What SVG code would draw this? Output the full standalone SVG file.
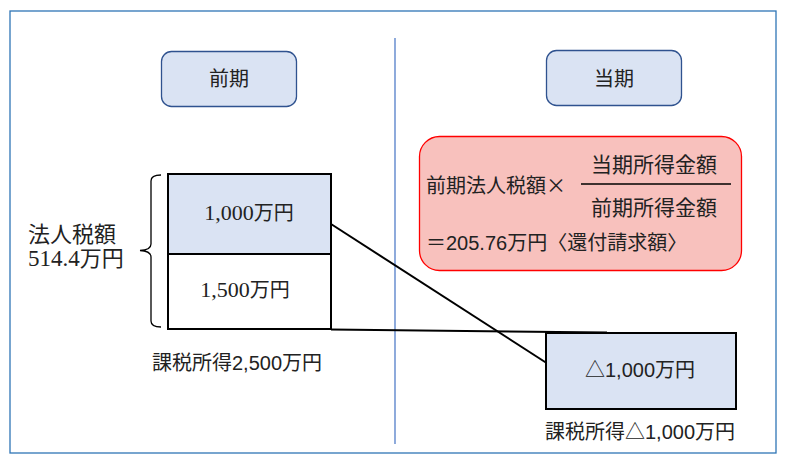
<svg xmlns="http://www.w3.org/2000/svg" width="785" height="463" viewBox="0 0 785 463">
<style>
.t{font-family:"Liberation Serif","Noto Sans CJK JP",serif;font-size:20px;fill:#222;}
.s{font-family:"Liberation Sans","Noto Sans CJK JP",sans-serif;font-size:20px;fill:#222;}
.cjk{font-family:"Noto Sans CJK JP",sans-serif;}
.num{font-size:22px;}
.hdr{fill:#dae3f3;stroke:#2f528f;stroke-width:1.3;}
.blk{stroke:#000;stroke-width:2;}
.conn{stroke:#000;stroke-width:2;fill:none;}
</style>
<rect x="0" y="0" width="785" height="463" fill="#fff"/>
<rect id="frame" x="10" y="11" width="766" height="442" fill="none" stroke="#2e75b6" stroke-width="1.3"/>
<line id="divider" x1="395" y1="38" x2="395" y2="444" stroke="#4472c4" stroke-width="1.2"/>
<g id="connectors">
<line class="conn" x1="331" y1="224" x2="559" y2="371"/>
<line class="conn" x1="331" y1="329.5" x2="607" y2="332.5"/>
</g>
<g id="zenki-header">
<rect class="hdr" x="161.5" y="51.5" width="135" height="55" rx="10"/>
<text class="t" x="229" y="86" text-anchor="middle">前期</text>
</g>
<g id="touki-header">
<rect class="hdr" x="546.5" y="50.5" width="135" height="55" rx="10"/>
<text class="t" x="614" y="86" text-anchor="middle">当期</text>
</g>
<g id="box-1000">
<rect class="blk" x="168" y="174" width="163" height="80" fill="#dae3f3"/>
<text class="t" x="249" y="220" text-anchor="middle"><tspan class="num">1,000</tspan>万円</text>
</g>
<g id="box-1500">
<rect class="blk" x="168" y="254" width="163" height="75" fill="#fff"/>
<text class="t" x="245" y="297" text-anchor="middle"><tspan class="num">1,500</tspan>万円</text>
</g>
<g id="brace">
<path d="M161 175 Q151 175 151 181 L151 244 Q151 250 140 250.5 Q151 251 151 257 L151 321 Q151 327 161 327" fill="none" stroke="#000" stroke-width="1.3"/>
<text class="t" x="28" y="242" style="font-size:22px">法人税額</text>
<text class="t" x="28" y="266" style="font-size:22px"><tspan style="font-size:23px">514.4</tspan>万円</text>
</g>
<g id="label-2500">
<text class="s" x="152" y="370">課税所得2,500万円</text>
</g>
<g id="formula">
<rect x="419.5" y="136.5" width="322" height="134" rx="20" fill="#f8c1bd" stroke="#ff0000" stroke-width="1.3"/>
<text class="t" x="426" y="193">前期法人税額<tspan class="cjk">×</tspan></text>
<text class="t" x="654" y="172" text-anchor="middle" style="font-size:21px">当期所得金額</text>
<line x1="581" y1="184" x2="731" y2="184" stroke="#000" stroke-width="1.5"/>
<text class="t" x="654" y="215" text-anchor="middle" style="font-size:21px">前期所得金額</text>
<text class="s" x="426" y="250">＝205.76万円〈還付請求額〉</text>
</g>
<g id="box-minus1000">
<rect class="blk" x="546" y="333" width="190" height="76" fill="#dae3f3"/>
<text class="s" x="640" y="377" text-anchor="middle">△1,000万円</text>
</g>
<g id="label-minus1000">
<text class="s" x="640" y="439" text-anchor="middle">課税所得△1,000万円</text>
</g>
</svg>
